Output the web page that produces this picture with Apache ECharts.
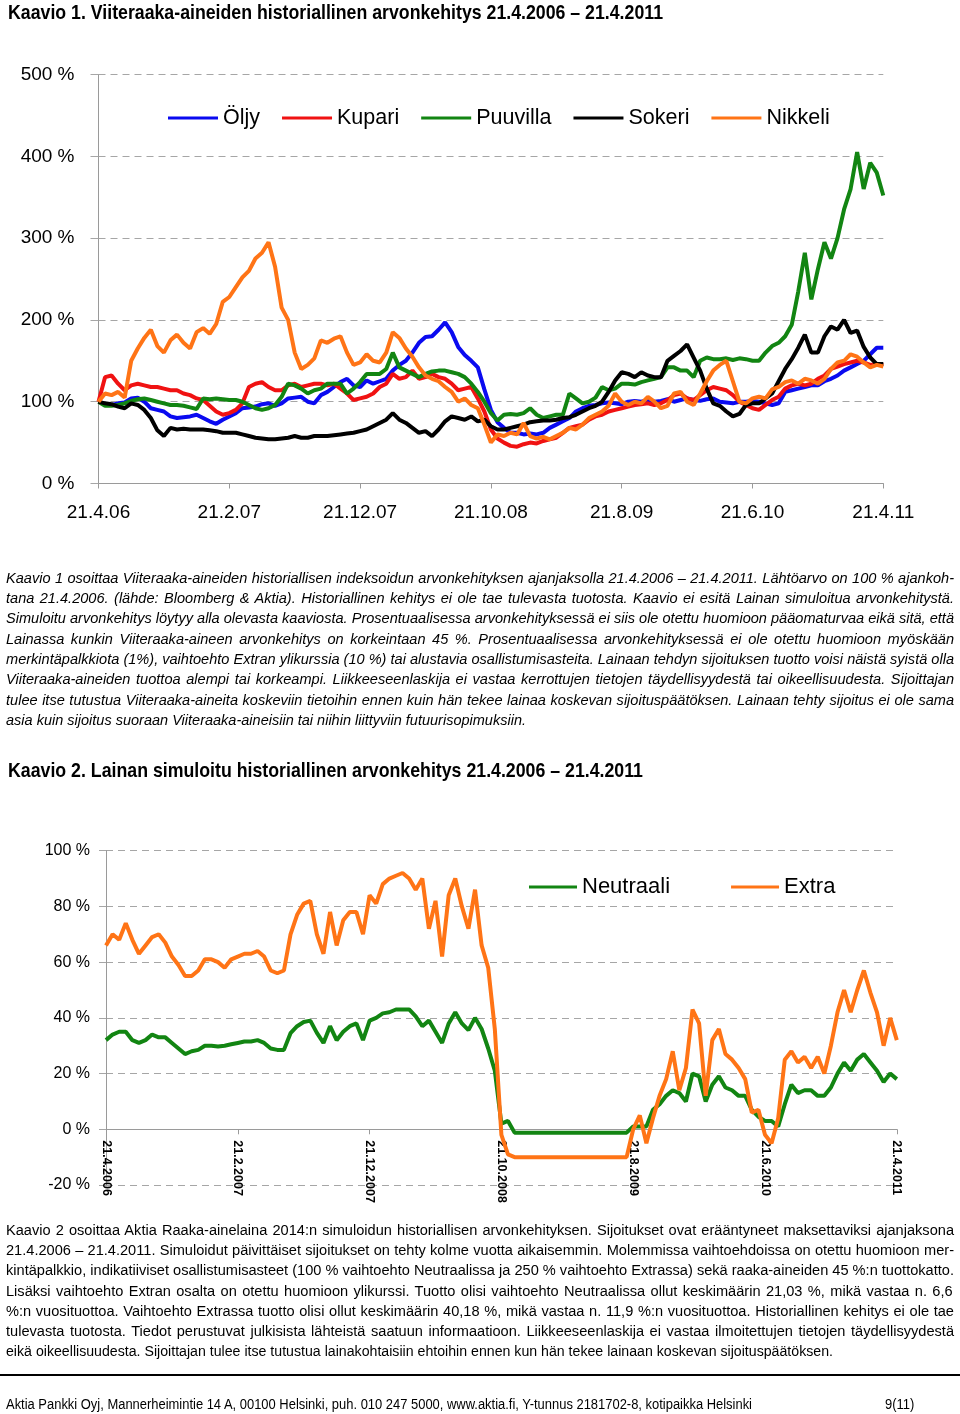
<!DOCTYPE html>
<html>
<head>
<meta charset="utf-8">
<script src="https://cdn.jsdelivr.net/npm/echarts@6/dist/echarts.min.js"></script>
<style>
  html, body { margin: 0; padding: 0; background: #fff; }
  body { width: 960px; height: 1414px; position: relative; overflow: hidden; }
  #chart { position: absolute; left: 0; top: 0; width: 960px; height: 1414px; z-index: 0; }
  .ln { position: absolute; white-space: nowrap; transform-origin: 0 0; color: #000; z-index: 1;
        font-family: "Liberation Sans Narrow", "Arial Narrow", "Liberation Sans", Arial, sans-serif; }
  .it { font-style: italic; }
  .bd { font-weight: bold; }
  #rule { position: absolute; left: 0; top: 1374px; width: 960px; height: 2px; background: #000; z-index: 1; }
</style>
</head>
<body>
<div id="chart"></div>
<div id="rule"></div>
<script>
// ---------------- DATA ----------------
const seriesNames1 = ['Öljy', 'Kupari', 'Puuvilla', 'Sokeri', 'Nikkeli'];
const ticks1 = ['21.4.06', '21.2.07', '21.12.07', '21.10.08', '21.8.09', '21.6.10', '21.4.11'];
const ticks2 = ['21.4.2006', '21.2.2007', '21.12.2007', '21.10.2008', '21.8.2009', '21.6.2010', '21.4.2011'];

const oljy = [100,97,96,98,99,104,105,100,92,90, 88,82,80,81,82,84,80,76,73,78,
  82,86,92,93,94,97,98,95,98,104, 105,106,100,98,108,112,118,124,128,120,
  118,126,122,125,128,138,145,150,160,172, 179,180,188,197,185,167,157,150,142,115,
  90,75,68,62,62,60,61,60,62,68, 72,76,80,88,92,95,96,98,99,98,
  97,100,101,100,102,100,101,103,100,102, 104,102,101,103,104,100,99,98,100,100,
  101,100,98,96,98,112,114,116,118,120, 120,125,128,132,138,142,146,150,158,166, 166];

const kupari = [100,130,132,122,114,120,122,120,118,118, 116,114,114,110,108,104,102,95,88,84,
  86,90,98,118,122,124,118,114,114,120, 122,118,120,122,122,120,122,116,110,102,
  104,106,110,118,122,134,128,130,138,128, 130,134,130,128,122,114,116,118,104,88,
  66,55,50,46,45,48,50,49,52,54, 56,62,68,70,72,78,82,84,88,90,
  92,94,96,97,98,96,98,102,108,110, 104,102,108,114,118,116,114,108,100,96,
  92,90,96,102,106,116,120,122,120,122, 128,132,140,143,146,148,150,148,145,146, 145];

const puuvilla = [100,95,95,96,98,101,103,104,102,100, 98,96,96,95,93,91,104,103,104,103,
  102,102,100,96,92,90,92,96,106,122, 120,116,110,114,116,122,122,122,110,116,
  124,134,134,134,140,160,142,138,134,130, 134,137,138,138,136,134,130,122,112,100,
  86,77,84,85,84,86,92,84,80,82, 84,84,110,104,98,100,105,118,114,116,
  122,122,121,124,126,128,130,142,142,138, 138,130,150,154,152,152,153,151,153,152,
  150,150,160,168,172,180,194,235,282,225, 262,295,275,300,335,360,405,360,392,380, 352];

const sokeri = [100,98,97,94,92,98,96,90,80,65, 58,68,66,67,66,66,66,65,64,62,
  62,62,60,58,56,55,54,54,55,56, 58,56,56,58,58,58,59,60,61,62,
  64,66,70,74,78,86,78,74,68,62, 64,58,66,76,82,80,78,82,76,78,
  70,66,66,68,70,72,75,76,77,77, 78,80,81,84,88,92,95,100,112,126,
  136,134,130,136,132,130,130,150,156,162, 170,154,138,116,98,95,88,82,85,96,
  98,98,104,110,125,140,152,166,182,160, 160,180,192,188,200,184,187,167,154,146, 146];

const nikkeli = [100,110,108,112,105,150,165,178,188,168, 160,175,182,172,165,185,190,183,195,222,
  228,240,252,260,275,282,295,265,215,200, 160,140,145,153,175,172,177,180,160,145,
  148,158,150,148,160,185,178,165,155,142, 132,128,125,118,112,100,104,96,92,72,
  50,60,58,62,60,74,58,55,57,54, 58,62,68,66,72,80,84,88,95,110,
  100,96,100,98,106,100,92,95,110,112, 100,96,110,125,138,145,150,125,100,98,
  104,106,104,115,118,124,126,122,128,126, 122,128,140,148,150,158,155,148,142,145, 143];

const seriesNames2 = ['Neutraali', 'Extra'];
const neutraali = [32,34,35,35,32,31,32,34,33,33, 31,29,27,28,28.5,30,30,29.7,30,30.5,
  31,31.5,31.5,32,31,29,28.5,28.5,34.5,37, 38.5,39,34.6,31,37,32,35,37,38,32,
  39,40,41.6,42,43,43,43,40.5,37,39, 35,31,38,42,38,35.6,40,36,29,21,
  2,3,-1.2,-1.2,-1.2,-1.2,-1.2,-1.2,-1.2,-1.2, -1.2,-1.2,-1.2,-1.2,-1.2,-1.2,-1.2,-1.2,-1.2,-1.2,
  1,1,1,7,9,12,14,13,10,20, 19,10,16,19,15,14,12,12,7,4.5,
  3,3,1,9,16,13,14,14,12,12, 15,20,24,21,25,27,24,21,17,20, 18];

const extra = [66,70,68,74,68,63,66,69,70,67, 62,59,55,55,57,61,61,60,58,61,
  62,63,63,64,62,57,56,57,70,77, 81,82,70,63,78,66,75,78,78,70,
  84,81,88,90,91,92,90,86,90,72, 82,62,84,90,80,72,86,66,58,36,
  -2,-9,-10,-10,-10,-10,-10,-10,-10,-10, -10,-10,-10,-10,-10,-10,-10,-10,-10,-10,
  0,5,-5,4,12,18,28,14,22,43, 38,12,32,36,27,25,22,18,6,7,
  -2,-5,4,25,28,24,26,22,26,20, 30,42,50,42,50,57,49,42,30,40, 32];

// half-monthly category dates (21st and 6th) from 21.4.2006 to 21.4.2011
function makeCats(fullYear) {
  const out = [];
  for (let k = 0; k <= 120; k++) {
    const j = Math.floor(k / 2);
    const t = (k % 2 === 0) ? 3 + j : 4 + j;
    const day = (k % 2 === 0) ? 21 : 6;
    const y = 2006 + Math.floor(t / 12);
    const m = t % 12 + 1;
    const ys = fullYear ? String(y) : String(y).slice(2);
    out.push(day + '.' + m + '.' + ys);
  }
  return out;
}
const cats1 = makeCats(false);
const cats2 = makeCats(true);

// ---------------- CHART ----------------
const FONT = '"Liberation Sans", Arial, sans-serif';
const NARROW = '"Liberation Sans Narrow", "Arial Narrow", "Liberation Sans", Arial, sans-serif';
const GRID_C = '#a6a6a6';
const AXIS_C = '#9a9a9a';
const colors1 = ['#0a0af0', '#f01212', '#128512', '#000000', '#ff7416'];
const colors2 = ['#128512', '#ff7416'];

const chart = echarts.init(document.getElementById('chart'), null, { renderer: 'canvas', devicePixelRatio: 1 });

const lineSeries = [];
[oljy, kupari, puuvilla, sokeri, nikkeli].forEach((d, i) => {
  lineSeries.push({
    name: seriesNames1[i], type: 'line', xAxisIndex: 0, yAxisIndex: 0, data: d,
    symbol: 'none', color: colors1[i], lineStyle: { width: 4, color: colors1[i] }, z: 2 + i
  });
});
[neutraali, extra].forEach((d, i) => {
  lineSeries.push({
    name: seriesNames2[i], type: 'line', xAxisIndex: 1, yAxisIndex: 1, data: d,
    symbol: 'none', color: colors2[i], lineStyle: { width: 4, color: colors2[i] }, z: 2 + i
  });
});

// grid 2 geometry: y from -20 to 100 ; x axis drawn at the 0 % level
const g2Top = 850.7, g2Height = 334.3;
const zeroOffset = -g2Height * 20 / 120;

const option = {
  animation: false,
  backgroundColor: '#ffffff',
  legend: [
    { data: seriesNames1, left: 168, top: 107, padding: 0, itemWidth: 50, itemHeight: 3, itemGap: 22,
      icon: 'rect', textStyle: { fontSize: 21.5, color: '#000', fontFamily: FONT } },
    { data: seriesNames2, left: 529, top: 876, padding: 0, itemWidth: 48, itemHeight: 3, itemGap: 61,
      icon: 'rect', textStyle: { fontSize: 22, color: '#000', fontFamily: FONT } }
  ],
  grid: [
    { left: 98.5, top: 74.5, width: 784.8, height: 409 },
    { left: 106, top: g2Top, width: 790.8, height: g2Height }
  ],
  xAxis: [
    { type: 'category', gridIndex: 0, data: cats1, boundaryGap: false,
      axisLine: { lineStyle: { color: AXIS_C, width: 1 } },
      axisTick: { show: true, interval: 19, length: 5, lineStyle: { color: AXIS_C } },
      axisLabel: { interval: 19, margin: 20, fontSize: 19, color: '#000', fontFamily: FONT,
        formatter: (v, idx) => (idx % 20 === 0 ? ticks1[idx / 20] : '') },
      splitLine: { show: false } },
    { type: 'category', gridIndex: 1, data: cats2, boundaryGap: false, offset: zeroOffset,
      axisLine: { onZero: false, lineStyle: { color: AXIS_C, width: 1 } },
      axisTick: { show: true, interval: 19, length: 5, lineStyle: { color: AXIS_C } },
      axisLabel: { interval: 19, rotate: -90, margin: 11, fontSize: 12.5, fontWeight: 'bold', color: '#000', fontFamily: NARROW,
        formatter: (v, idx) => (idx % 20 === 0 ? ticks2[idx / 20] : '') },
      splitLine: { show: false } }
  ],
  yAxis: [
    { type: 'value', gridIndex: 0, min: 0, max: 500, interval: 100,
      axisLine: { show: true, lineStyle: { color: AXIS_C, width: 1 } },
      axisTick: { show: true, length: 8, lineStyle: { color: GRID_C } },
      axisLabel: { margin: 24, fontSize: 19, color: '#000', fontFamily: FONT, formatter: v => v + ' %' },
      splitLine: { show: true, lineStyle: { color: GRID_C, type: [7, 5], width: 1 } } },
    { type: 'value', gridIndex: 1, min: -20, max: 100, interval: 20,
      axisLine: { show: true, lineStyle: { color: AXIS_C, width: 1 } },
      axisTick: { show: true, length: 7, lineStyle: { color: GRID_C } },
      axisLabel: { margin: 16, fontSize: 16, color: '#000', fontFamily: FONT, formatter: v => v + ' %' },
      splitLine: { show: true, lineStyle: { color: GRID_C, type: [7, 5], width: 1 } } }
  ],
  series: lineSeries
};
chart.setOption(option);

// ---------------- TEXT ----------------
const title1 = 'Kaavio 1. Viiteraaka-aineiden historiallinen arvonkehitys 21.4.2006 – 21.4.2011';
const title2 = 'Kaavio 2. Lainan simuloitu historiallinen arvonkehitys 21.4.2006 – 21.4.2011';
const para1 = [
  'Kaavio 1 osoittaa Viiteraaka-aineiden historiallisen indeksoidun arvonkehityksen ajanjaksolla 21.4.2006 – 21.4.2011. Lähtöarvo on 100 % ajankoh-',
  'tana 21.4.2006. (lähde: Bloomberg & Aktia). Historiallinen kehitys ei ole tae tulevasta tuotosta. Kaavio ei esitä Lainan simuloitua arvonkehitystä.',
  'Simuloitu arvonkehitys löytyy alla olevasta kaaviosta. Prosentuaalisessa arvonkehityksessä ei siis ole otettu huomioon pääomaturvaa eikä sitä, että',
  'Lainassa kunkin Viiteraaka-aineen arvonkehitys on korkeintaan 45 %. Prosentuaalisessa arvonkehityksessä ei ole otettu huomioon myöskään',
  'merkintäpalkkiota (1%), vaihtoehto Extran ylikurssia (10 %) tai alustavia osallistumisasteita. Lainaan tehdyn sijoituksen tuotto voisi näistä syistä olla',
  'Viiteraaka-aineiden tuottoa alempi tai korkeampi. Liikkeeseenlaskija ei vastaa kerrottujen tietojen täydellisyydestä tai oikeellisuudesta. Sijoittajan',
  'tulee itse tutustua Viiteraaka-aineita koskeviin tietoihin ennen kuin hän tekee lainaa koskevan sijoituspäätöksen. Lainaan tehty sijoitus ei ole sama',
  'asia kuin sijoitus suoraan Viiteraaka-aineisiin tai niihin liittyviin futuurisopimuksiin.'
];
const para2 = [
  'Kaavio 2 osoittaa Aktia Raaka-ainelaina 2014:n simuloidun historiallisen arvonkehityksen. Sijoitukset ovat erääntyneet maksettaviksi ajanjaksona',
  '21.4.2006 – 21.4.2011. Simuloidut päivittäiset sijoitukset on tehty kolme vuotta aikaisemmin. Molemmissa vaihtoehdoissa on otettu huomioon mer-',
  'kintäpalkkio, indikatiiviset osallistumisasteet (100 % vaihtoehto Neutraalissa ja 250 % vaihtoehto Extrassa) sekä raaka-aineiden 45 %:n tuottokatto.',
  'Lisäksi vaihtoehto Extran osalta on otettu huomioon ylikurssi.  Tuotto olisi vaihtoehto Neutraalissa ollut keskimäärin 21,03 %, mikä vastaa n. 6,6',
  '%:n vuosituottoa. Vaihtoehto Extrassa tuotto olisi ollut keskimäärin 40,18 %, mikä vastaa n. 11,9 %:n vuosituottoa. Historiallinen kehitys ei ole tae',
  'tulevasta tuotosta. Tiedot perustuvat julkisista lähteistä saatuun informaatioon. Liikkeeseenlaskija ei vastaa ilmoitettujen tietojen täydellisyydestä',
  'eikä oikeellisuudesta. Sijoittajan tulee itse tutustua lainakohtaisiin ehtoihin ennen kun hän tekee lainaan koskevan sijoituspäätöksen.'
];
const footer = 'Aktia Pankki Oyj, Mannerheimintie 14 A, 00100 Helsinki, puh. 010 247 5000, www.aktia.fi, Y-tunnus 2181702-8, kotipaikka Helsinki';
const pageNo = '9(11)';

function makeLine(text, left, baseline, size, cls) {
  const d = document.createElement('div');
  d.className = 'ln ' + (cls || '');
  d.style.left = left + 'px';
  d.style.top = (baseline - 0.9465 * size) + 'px';
  d.style.fontSize = size + 'px';
  d.style.lineHeight = (1.2 * size) + 'px';
  d.textContent = text;
  document.body.appendChild(d);
  return d;
}
function fitTo(d, width) {
  const w = d.getBoundingClientRect().width;
  const s = width / w;
  d.style.transform = 'scaleX(' + s + ')';
  return s;
}
function paragraph(lines, left, baseline0, step, size, cls, fullW, lastW) {
  const els = lines.map((t, i) => makeLine(t, left, baseline0 + i * step, size, cls));
  const widths = els.map(e => e.getBoundingClientRect().width);
  let sG = Infinity;
  for (let i = 0; i < els.length - 1; i++) sG = Math.min(sG, fullW / widths[i]);
  for (let i = 0; i < els.length - 1; i++) {
    const s = Math.min(sG, fullW / widths[i]);
    const n = (lines[i].match(/ /g) || []).length;
    const extraPx = (fullW / s - widths[i]) / Math.max(1, n);
    els[i].style.wordSpacing = extraPx + 'px';
    els[i].style.transform = 'scaleX(' + s + ')';
  }
  fitTo(els[els.length - 1], lastW);
}

fitTo(makeLine(title1, 8, 18.5, 21, 'bd'), 655);
paragraph(para1, 6, 583, 20.35, 14, 'it', 948, 520);
fitTo(makeLine(title2, 8, 777, 21, 'bd'), 635);
paragraph(para2, 6, 1235.5, 20.1, 14, '', 948, 827);
const f = makeLine(footer, 6, 1409, 14, '');
const sf = fitTo(f, 746);
const pn = makeLine(pageNo, 885, 1409, 14, '');
pn.style.transform = 'scaleX(' + sf + ')';
</script>
</body>
</html>
